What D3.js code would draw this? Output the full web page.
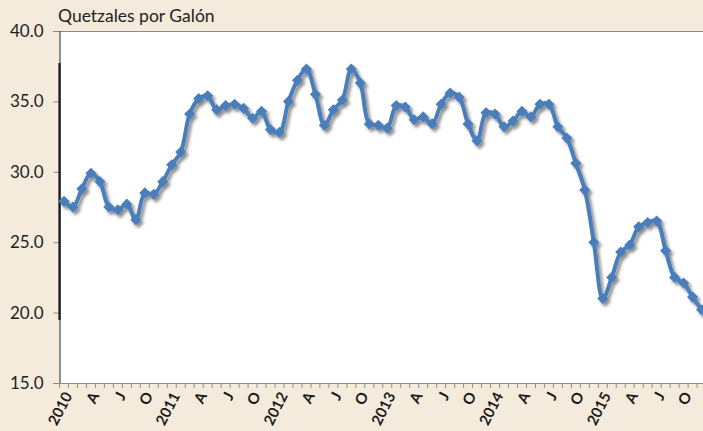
<!DOCTYPE html>
<html>
<head>
<meta charset="utf-8">
<script src="https://cdn.jsdelivr.net/npm/d3@7"></script>
<style>
  html, body { margin: 0; padding: 0; background: #F5EBDC; }
  svg { display: block; }
</style>
</head>
<body>
<svg id="chart" width="703" height="431"></svg>
<script>
// ---- Data ----
const years = ["2010", "2011", "2012", "2013", "2014", "2015"];
const monthLetters = ["", "", "", "A", "", "", "J", "", "", "O", "", ""];
const values2010 = [27.9, 27.5, 28.8, 29.9, 29.3, 27.5, 27.3, 27.7, 26.6, 28.5, 28.4, 29.3];
const values2011 = [30.5, 31.4, 34.1, 35.2, 35.4, 34.4, 34.7, 34.8, 34.5, 33.8, 34.3, 33.0];
const values2012 = [32.8, 35.0, 36.5, 37.3, 35.5, 33.3, 34.4, 35.1, 37.3, 36.3, 33.4, 33.3];
const values2013 = [33.1, 34.7, 34.6, 33.7, 33.9, 33.4, 34.8, 35.6, 35.3, 33.4, 32.2, 34.2];
const values2014 = [34.1, 33.2, 33.6, 34.3, 33.9, 34.8, 34.8, 33.2, 32.4, 30.6, 28.7, 25.0];
const values2015 = [21.0, 22.5, 24.3, 24.8, 26.1, 26.4, 26.5, 24.4, 22.5, 22.1, 21.1, 20.2];
const yTicks = [15, 20, 25, 30, 35, 40];
const yTitle = "Quetzales por Galón";

const allValues = [values2010, values2011, values2012, values2013, values2014, values2015];
const data = [];
allValues.forEach((arr, yi) => arr.forEach((v, mi) => {
  data.push({ key: years[yi] + "-" + (mi + 1), year: years[yi], month: mi, value: v });
}));

// ---- Layout ----
const svg = d3.select("#chart");
const plotLeft = 59.5, plotTop = 31, plotBottom = 383;
const bandW = 8.98;
const plotRight = plotLeft + bandW * data.length;

const x = d3.scaleBand().domain(data.map(d => d.key)).range([plotLeft, plotRight]).padding(0);
const y = d3.scaleLinear().domain([15, 40]).range([plotBottom, plotTop]);

const defs = svg.append("defs");
const f = defs.append("filter").attr("id", "shadow")
  .attr("x", "-10%").attr("y", "-10%").attr("width", "130%").attr("height", "130%");
f.append("feDropShadow").attr("dx", 2.5).attr("dy", 3).attr("stdDeviation", 1.6)
  .attr("flood-color", "#000").attr("flood-opacity", 0.45);

// plot area
svg.append("rect").attr("x", plotLeft).attr("y", plotTop)
  .attr("width", 703 - plotLeft).attr("height", plotBottom - plotTop).attr("fill", "#FFFFFF");

// top border
svg.append("line").attr("x1", plotLeft - 6).attr("x2", 703).attr("y1", plotTop + 0.5).attr("y2", plotTop + 0.5)
  .attr("stroke", "#8C8C8C").attr("stroke-width", 1);

// y axis
const yAxis = d3.axisLeft(y).tickValues(yTicks).tickSize(6).tickPadding(10)
  .tickFormat(d3.format(".1f"));
const gy = svg.append("g").attr("transform", `translate(${plotLeft},0)`).call(yAxis);
gy.select(".domain").attr("stroke", "#222").attr("stroke-width", 1);
gy.selectAll(".tick line").attr("stroke", "#8C8C8C");
gy.selectAll(".tick text").attr("fill", "#222").style("font-family", "Lato, 'Open Sans', sans-serif")
  .style("font-size", "17px");
// thicker dark segment of the value axis
svg.append("line").attr("x1", plotLeft).attr("x2", plotLeft).attr("y1", 63).attr("y2", 320)
  .attr("stroke", "#1a1a1a").attr("stroke-width", 2.2);

// x axis
const xAxis = d3.axisBottom(x).tickSize(0).tickFormat(() => "");
const gx = svg.append("g").attr("transform", `translate(0,${plotBottom})`).call(xAxis);
gx.select(".domain").attr("stroke", "#8C8C8C").attr("stroke-width", 1.2);
// month tick marks at category boundaries
gx.selectAll(".mt").data(data).enter().append("line").attr("class", "mt")
  .attr("x1", d => x(d.key)).attr("x2", d => x(d.key))
  .attr("y1", 0).attr("y2", 5).attr("stroke", "#8C8C8C").attr("stroke-width", 1);

// x labels
const labelData = data.filter(d => d.month % 3 === 0);
svg.append("g").selectAll("text").data(labelData).enter().append("text")
  .attr("transform", d => `translate(${x(d.key) + x.bandwidth() / 2 + 4},${plotBottom + 10}) rotate(-63)`)
  .attr("text-anchor", "end").attr("dy", "0.35em")
  .style("font-family", "Lato, 'Open Sans', sans-serif").style("font-weight", "bold")
  .style("font-size", "15px").attr("fill", "#1a1a1a")
  .text(d => d.month === 0 ? d.year : monthLetters[d.month]);

// title
svg.append("text").attr("x", 58).attr("y", 22)
  .style("font-family", "Lato, 'Open Sans', sans-serif").style("font-size", "17.5px")
  .attr("fill", "#222").text(yTitle);

// line + markers
const cx = d => x(d.key) + x.bandwidth() / 2;
const g = svg.append("g").attr("filter", "url(#shadow)");
const line = d3.line().x(cx).y(d => y(d.value)).curve(d3.curveCatmullRom.alpha(0.5));
g.append("path").datum(data).attr("d", line).attr("fill", "none")
  .attr("stroke", "#4A7EBB").attr("stroke-width", 4).attr("stroke-linejoin", "round");
const sym = d3.symbol().type(d3.symbolSquare).size(62);
g.selectAll("path.m").data(data).enter().append("path").attr("class", "m")
  .attr("d", sym).attr("fill", "#4A7EBB")
  .attr("transform", d => `translate(${cx(d)},${y(d.value)}) rotate(45)`);
</script>
</body>
</html>
